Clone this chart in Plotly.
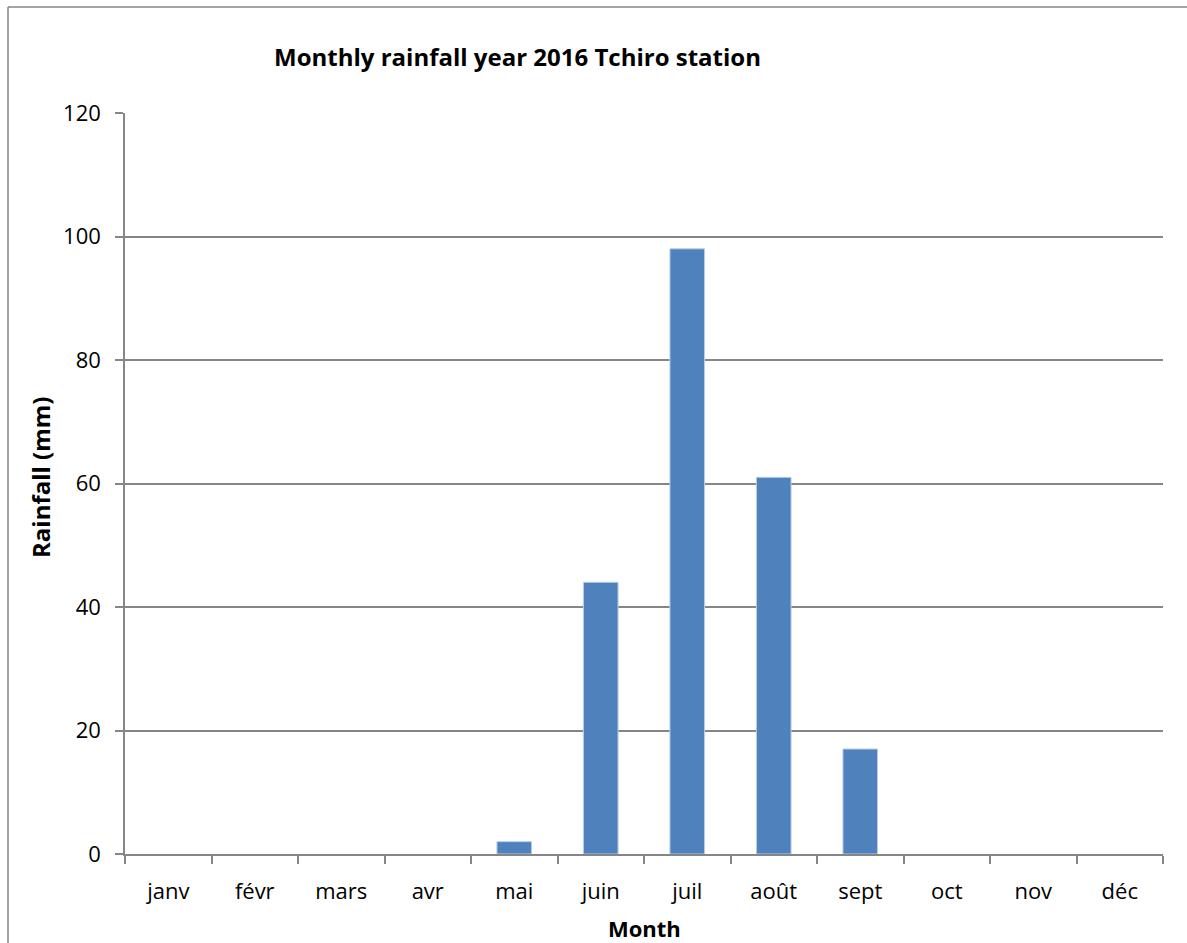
import plotly.graph_objects as go

months = ["janv", "févr", "mars", "avr", "mai", "juin", "juil", "août", "sept", "oct", "nov", "déc"]
rainfall = [0, 0, 0, 0, 2, 44, 98, 61, 17, 0, 0, 0]
y_ticks = [0, 20, 40, 60, 80, 100, 120]

title_text = "Monthly rainfall year 2016 Tchiro station"
x_title = "Month"
y_title = "Rainfall (mm)"

W, H = 1187, 943
L, R, T, B = 125, 24, 113, 89
PW, PH = W - L - R, H - T - B

fig = go.Figure()
fig.add_trace(go.Bar(
    x=months, y=rainfall,
    marker=dict(color="#4F81BD",
                line=dict(color="#B9CDE5", width=[1 if v > 0 else 0 for v in rainfall])),
    width=0.4,
))

font_family = "Open Sans, Noto Sans, sans-serif"

fig.update_layout(
    width=W, height=H,
    margin=dict(l=L, r=R, t=T, b=B),
    paper_bgcolor="white", plot_bgcolor="white",
    showlegend=False,
    font=dict(family=font_family, size=22, color="black"),
    xaxis=dict(
        type="category", categoryorder="array", categoryarray=months,
        showline=True, linecolor="#868686", linewidth=1.5,
        ticks="outside", tickson="boundaries", ticklen=8, tickcolor="#868686", tickwidth=1.5,
        ticklabelstandoff=17,
        showgrid=False, zeroline=False,
        range=[-0.5, 11.5],
        tickfont=dict(size=22, color="black"),
    ),
    yaxis=dict(
        range=[0, 120], tickvals=y_ticks,
        showline=True, linecolor="#868686", linewidth=1.5,
        ticks="outside", ticklen=8, tickcolor="#868686", tickwidth=1.5,
        ticklabelstandoff=10,
        showgrid=True, gridcolor="#868686", gridwidth=1.5,
        zeroline=False,
        tickfont=dict(size=22, color="black"),
    ),
)

# Title
fig.add_annotation(
    text="<b>" + title_text + "</b>", xref="paper", yref="paper",
    x=(517 - L) / PW, y=1 + (113 - 57) / PH,
    xanchor="center", yanchor="middle", showarrow=False,
    font=dict(family=font_family, size=24, color="black"),
)
# X axis title
fig.add_annotation(
    text="<b>" + x_title + "</b>", xref="paper", yref="paper",
    x=(644 - L) / PW, y=-(928 - 854) / PH,
    xanchor="center", yanchor="middle", showarrow=False,
    font=dict(family=font_family, size=22, color="black"),
)
# Y axis title
fig.add_annotation(
    text="<b>" + y_title + "</b>", xref="paper", yref="paper",
    x=-(125 - 40) / PW, y=(854 - 477) / PH,
    xanchor="center", yanchor="middle", showarrow=False, textangle=-90,
    font=dict(family=font_family, size=24, color="black"),
)

# Outer chart border: only top and left edges visible
fig.add_shape(
    type="line", xref="paper", yref="paper",
    x0=-(L - 8) / PW, x1=1 + R / PW,
    y0=1 + (T - 7) / PH, y1=1 + (T - 7) / PH,
    line=dict(color="#868686", width=1.5), layer="below",
)
fig.add_shape(
    type="line", xref="paper", yref="paper",
    x0=-(L - 8) / PW, x1=-(L - 8) / PW,
    y0=1 + (T - 7) / PH, y1=-B / PH,
    line=dict(color="#868686", width=1.5), layer="below",
)

fig.write_html("out.html")
